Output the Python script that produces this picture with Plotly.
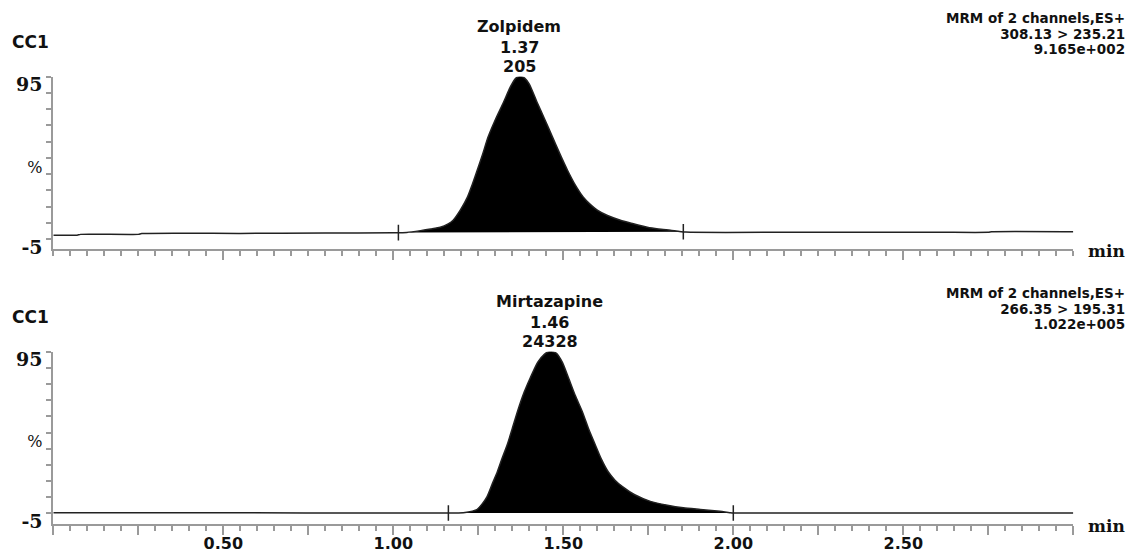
import numpy as np
import plotly.graph_objects as go

W, H = 1133, 551

# ---------------- data ----------------
time_top = [0.00, 0.07, 0.08, 0.25, 0.26, 0.55, 0.80, 1.00, 1.04, 1.08, 1.11, 1.138, 1.16, 1.176,
            1.197, 1.218, 1.232, 1.247, 1.263, 1.279, 1.30, 1.3235, 1.345, 1.36, 1.3735, 1.387,
            1.40, 1.4235, 1.445, 1.468, 1.49, 1.512, 1.535, 1.559, 1.58, 1.60, 1.63, 1.668, 1.70,
            1.747, 1.78, 1.815, 1.86, 2.20, 2.60, 2.75, 2.76, 3.00]
inten_top = [-2.5, -2.5, -2.0, -2.0, -1.5, -1.4, -1.2, -1.0, -0.8, 0.3, 1.3, 2.4, 4.3, 6.7,
             12.9, 20.9, 28.5, 37.6, 47.5, 58.0, 68.5, 79.0, 89.0, 94.0, 95.5, 94.0,
             90.5, 79.0, 69.0, 58.0, 47.5, 37.6, 28.5, 20.9, 16.3, 12.9, 9.6, 6.7, 4.9,
             2.4, 1.3, 0.5, -0.6, -0.7, -0.7, -0.7, -0.4, -0.4]

time_bot = [0.00, 0.50, 1.00, 1.162, 1.206, 1.225, 1.247, 1.262, 1.275, 1.29, 1.306, 1.32,
            1.335, 1.35, 1.365, 1.385, 1.403, 1.425, 1.445, 1.462, 1.48, 1.497, 1.515, 1.535,
            1.556, 1.575, 1.594, 1.612, 1.632, 1.652, 1.674, 1.71, 1.756, 1.806, 1.853, 1.903,
            1.953, 1.99, 2.00, 2.50, 3.00]
inten_bot = [-4.6, -4.7, -4.8, -4.8, -4.6, -4.0, -2.5, 1.0, 5.0, 12.7, 20.7, 29.0,
             37.4, 47.5, 57.9, 70.0, 78.9, 88.5, 93.5, 95.5, 94.0, 88.5, 79.0, 68.0,
             57.9, 47.0, 37.4, 28.5, 20.7, 15.5, 11.5, 6.5, 2.4, 0.0, -1.6, -2.6,
             -3.6, -4.6, -4.8, -4.8, -4.8]

integ_top = [1.015, 1.853]
integ_bot = [1.162, 2.000]

trace_label = "CC1"
compounds = ["Zolpidem", "Mirtazapine"]
ret_times = [1.37, 1.46]
areas = ["205", "24328"]
scan_header = "MRM of 2 channels,ES+"
transitions = ["308.13 > 235.21", "266.35 > 195.31"]
max_intensity = ["9.165e+002", "1.022e+005"]

x_tick_vals = [0.25 * i for i in range(13)]
x_tick_text = ["", "", "0.50", "", "1.00", "", "1.50", "", "2.00", "", "2.50", "", ""]
y_tick_vals = [-5, 5, 15, 25, 35, 45, 55, 65, 75, 85, 95]
y_tick_text = ["<b>-5</b>", "", "", "", "", '<span style="font-size:16px">%</span>',
               "", "", "", "", "<b>95</b>"]
x_unit = "min"

# ---------------- layout geometry ----------------
def py(px):
    return 1 - px / H

x_dom = [53.3 / W, (53.3 + 1020) / W]
top_dom = [py(249), py(76.7)]
bot_dom = [py(524.3), py(351.7)]
top_range = [-11.0, 95]
bot_range = [-11.8, 95]

AX = "#9a9a9a"
TXT = "#111111"
SANS = "DejaVu Sans"
SERIF = "DejaVu Serif"

fig = go.Figure()


def add_panel(t, v, integ, xa, ya):
    t = np.asarray(t, float)
    v = np.asarray(v, float)
    b0, b1 = np.interp(integ, t, v)
    mask = (t >= integ[0]) & (t <= integ[1])
    px = [integ[0]] + list(t[mask]) + [integ[1]]
    pv = [b0] + list(v[mask]) + [b1]
    # filled peak area down to the integration baseline
    fig.add_trace(go.Scatter(x=px, y=pv, mode="lines",
                             line=dict(width=0, color="black", shape="spline", smoothing=0.6),
                             xaxis=xa, yaxis=ya, hoverinfo="skip", showlegend=False))
    fig.add_trace(go.Scatter(x=[integ[0], integ[1]], y=[b0, b1], mode="lines",
                             fill="tonexty", fillcolor="black",
                             line=dict(width=0, color="black"),
                             xaxis=xa, yaxis=ya, hoverinfo="skip", showlegend=False))
    fig.add_trace(go.Scatter(x=t, y=v, mode="lines",
                             line=dict(color="#222222", width=1.5, shape="spline", smoothing=0.6),
                             xaxis=xa, yaxis=ya, showlegend=False))
    mx, my = [], []
    for ti, bi in zip(integ, (b0, b1)):
        mx += [ti, ti, None]
        my += [bi - 4.8, bi + 4.8, None]
    fig.add_trace(go.Scatter(x=mx, y=my, mode="lines", line=dict(color="#222222", width=1.5),
                             xaxis=xa, yaxis=ya, showlegend=False, hoverinfo="skip"))


add_panel(time_top, inten_top, integ_top, "x", "y")
add_panel(time_bot, inten_bot, integ_bot, "x2", "y2")


def xaxis(dom, anchor, labels):
    return dict(domain=dom, anchor=anchor, range=[0, 3.0], showline=True, linecolor=AX,
                linewidth=2, ticks="outside", tickvals=x_tick_vals, ticktext=x_tick_text,
                showticklabels=labels, ticklen=9, tickwidth=1.5, tickcolor=AX,
                ticklabelstandoff=-6,
                tickfont=dict(family=SANS, size=16, color=TXT, weight="bold"),
                minor=dict(dtick=0.05, tick0=0, ticks="outside", ticklen=5, tickwidth=1.5,
                           tickcolor=AX, showgrid=False),
                showgrid=False, zeroline=False, fixedrange=True, automargin=False)


def yaxis(dom, anchor, rng):
    return dict(domain=dom, anchor=anchor, range=rng, showline=True, linecolor=AX,
                linewidth=2, ticks="outside", tickvals=y_tick_vals, ticktext=y_tick_text,
                ticklen=5, tickwidth=1.5, tickcolor=AX, ticklabelshift=8,
                tickfont=dict(family=SERIF, size=19, color=TXT),
                showgrid=False, zeroline=False, fixedrange=True, automargin=False)


fig.update_layout(
    width=W, height=H, autosize=False,
    margin=dict(l=0, r=0, t=0, b=0, pad=0, autoexpand=False),
    paper_bgcolor="white", plot_bgcolor="white",
    xaxis=xaxis(x_dom, "y", False),
    yaxis=yaxis(top_dom, "x", top_range),
    xaxis2=xaxis(x_dom, "y2", True),
    yaxis2=yaxis(bot_dom, "x2", bot_range),
    showlegend=False,
)

ann = []
bold_sans = dict(family=SANS, size=16, color=TXT, weight="bold")


def text(x, y, s, xanchor="center", xref="paper", font=None, align="center"):
    ann.append(dict(x=x, y=py(y), xref=xref, yref="paper", text=s, showarrow=False,
                    xanchor=xanchor, yanchor="middle", align=align, font=font or bold_sans))


def big(s):
    return f'<span style="font-size:13.5px">{s}</span>'


for i, off in enumerate([0, 275]):
    text(10 / W, 41.5 + off, trace_label, xanchor="left",
         font=dict(family=SANS, size=17, color=TXT, weight="bold"))
    xr = "x" if i == 0 else "x2"
    text(ret_times[i], 26 + off, compounds[i], xref=xr)
    text(ret_times[i], 47 + off, f"{ret_times[i]:.2f}", xref=xr)
    text(ret_times[i], 66.5 + off, areas[i], xref=xr)
    block = "<br>".join(big(s) for s in (scan_header, transitions[i], max_intensity[i]))
    text(1127 / W, 33.5 + off, block, xanchor="right", align="right",
         font=dict(family=SANS, size=12, color=TXT, weight="bold"))
    text(1086 / W, 251 + off, x_unit, xanchor="left",
         font=dict(family=SERIF, size=17, color=TXT, weight="bold"))

fig.update_layout(annotations=ann)
fig.write_html("out.html")
